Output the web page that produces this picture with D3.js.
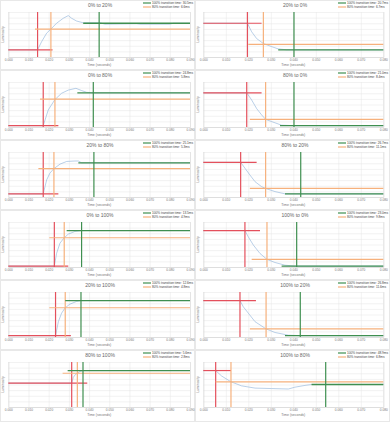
<!DOCTYPE html>
<html>
<head>
<meta charset="utf-8">
<script src="https://cdn.jsdelivr.net/npm/d3@7"></script>
<style>
  body { margin: 0; background: #fff; }
  text { font-family: "Liberation Sans", Arial, sans-serif; }
</style>
</head>
<body>
<div id="chart"></div>
<script>
// panel order: left column then right column, row by row
const titles = [
  "0% to 20%", "20% to 0%",
  "0% to 80%", "80% to 0%",
  "20% to 80%", "80% to 20%",
  "0% to 100%", "100% to 0%",
  "20% to 100%", "100% to 20%",
  "80% to 100%", "100% to 80%",
];

const label100 = ["30.5ms", "20.7ms", "24.8ms", "21.0ms", "25.1ms", "26.7ms",
  "13.5ms", "23.0ms", "12.6ms", "26.8ms", "5.6ms", "48.9ms"];
const label80 = ["6.6ms", "6.7ms", "5.8ms", "8.4ms", "5.3ms", "11.1ms",
  "4.9ms", "9.8ms", "4.8ms", "11.6ms", "2.8ms", "6.8ms"];

// start of transition: time, level, end of the red level line
const startT = [0.0145, 0.0196, 0.0173, 0.0193, 0.0173, 0.0166, 0.0228, 0.0185, 0.0234, 0.0163, 0.0314, 0.0055];
const startLevel = [16, 75, 3, 76, 7, 77, 2, 81, 3, 81, 53, 81];
const startEnd = [0.0219, 0.0259, 0.0248, 0.0259, 0.0248, 0.0237, 0.0297, 0.0252, 0.0310, 0.0234, 0.0391, 0.0123];

// 80% point
const t80 = [0.0211, 0.0267, 0.0231, 0.0277, 0.0226, 0.0277, 0.0277, 0.0283, 0.0282, 0.0279, 0.0342, 0.0123];
const level80 = [62, 28, 62, 17, 63, 19, 65, 17, 65, 18, 75, 56];
const from80 = [0.0132, 0.0200, 0.0157, 0.0207, 0.0149, 0.0207, 0.0203, 0.0215, 0.0203, 0.0207, 0.0269, 0.0055];

// 100% point
const t100 = [0.0450, 0.0403, 0.0421, 0.0403, 0.0424, 0.0433, 0.0363, 0.0415, 0.0360, 0.0431, 0.0370, 0.0544];
const level100 = [75, 16, 76, 3, 76, 7, 81, 2, 81, 3, 81, 50];
const from100 = [0.0371, 0.0333, 0.0342, 0.0341, 0.0347, 0.0363, 0.0289, 0.0348, 0.0282, 0.0363, 0.0294, 0.0481];

// measured luminosity curves [time (s), luminosity]
const curves = [
  [[0, 16], [0.0145, 16], [0.0165, 34], [0.0190, 53], [0.0211, 62], [0.0239, 75], [0.0272, 86], [0.0297, 92], [0.0314, 86], [0.0338, 80], [0.0371, 76], [0.0454, 76], [0.0479, 73], [0.0635, 74], [0.0652, 73], [0.0800, 73], [0.0817, 75], [0.0900, 75]],
  [[0, 75], [0.0196, 75], [0.0215, 56], [0.0237, 41], [0.0267, 30], [0.0304, 23], [0.0333, 18], [0.0370, 16], [0.0800, 16]],
  [[0, 3], [0.0173, 3], [0.0198, 38], [0.0231, 61], [0.0264, 75], [0.0297, 82], [0.0335, 86], [0.0363, 81], [0.0388, 77], [0.0420, 76], [0.0900, 76]],
  [[0, 76], [0.0193, 76], [0.0215, 60], [0.0237, 41], [0.0259, 27], [0.0277, 17], [0.0304, 12], [0.0348, 4], [0.0400, 3], [0.0800, 3]],
  [[0, 7], [0.0173, 7], [0.0190, 38], [0.0206, 53], [0.0226, 63], [0.0256, 73], [0.0289, 79], [0.0330, 80], [0.0347, 80], [0.0363, 76], [0.0400, 76], [0.0900, 76]],
  [[0, 77], [0.0166, 77], [0.0185, 64], [0.0207, 49], [0.0230, 34], [0.0259, 23], [0.0277, 19], [0.0319, 12], [0.0363, 7], [0.0800, 7]],
  [[0, 2], [0.0228, 2], [0.0239, 30], [0.0256, 53], [0.0277, 65], [0.0297, 73], [0.0330, 79], [0.0363, 81], [0.0900, 81]],
  [[0, 81], [0.0185, 81], [0.0200, 67], [0.0222, 49], [0.0252, 30], [0.0283, 17], [0.0319, 10], [0.0363, 4], [0.0407, 2], [0.0800, 2]],
  [[0, 3], [0.0234, 3], [0.0248, 34], [0.0264, 53], [0.0282, 65], [0.0305, 73], [0.0338, 79], [0.0360, 81], [0.0900, 81]],
  [[0, 81], [0.0163, 81], [0.0178, 67], [0.0200, 53], [0.0230, 34], [0.0279, 18], [0.0319, 10], [0.0378, 4], [0.0431, 3], [0.0800, 3]],
  [[0, 53], [0.0314, 53], [0.0322, 66], [0.0332, 72], [0.0342, 75], [0.0355, 79], [0.0370, 81], [0.0900, 81]],
  [[0, 81], [0.0055, 81], [0.0081, 69], [0.0123, 56], [0.0170, 47], [0.0230, 42], [0.0304, 41], [0.0378, 40], [0.0407, 44], [0.0452, 48], [0.0481, 50], [0.0800, 50]],
];

const xMax = [0.09, 0.08]; // left column, right column
const yTicks = [0, 12.5, 25, 37.5, 50, 62.5, 75, 87.5, 100];

const colors = {
  red: "#e4505c",
  orange: "#f6b17c",
  green: "#3f8f50",
  blue: "#8cb0d9",
  grid: "#e4e4e4",
  text: "#777",
};

const panelW = 195;
const rowTop = [0, 70, 140, 210, 280, 350];
const rowH = [70, 70, 70, 70, 70, 72];

const svg = d3.select("#chart").append("svg").attr("width", 390).attr("height", 422);

titles.forEach((title, i) => {
  const col = i % 2;
  const row = Math.floor(i / 2);
  const g = svg.append("g").attr("transform", `translate(${col * panelW}, ${rowTop[row]})`);

  g.append("rect")
    .attr("x", 0.5).attr("y", 0.5)
    .attr("width", panelW - 1).attr("height", rowH[row] - 1)
    .attr("fill", "#fff").attr("stroke", "#e8e8e8");

  const x = d3.scaleLinear().domain([0, xMax[col]]).range([8.3, col ? 188.3 : 190]);
  const y = d3.scaleLinear().domain([0, 100]).range([57, 12]);
  const xTicks = d3.range(0, Math.round(xMax[col] * 100) + 1).map((d) => d / 100);

  // horizontal grid
  g.append("g")
    .attr("transform", `translate(${x.range()[0]}, 0)`)
    .call(d3.axisLeft(y).tickValues(yTicks).tickSize(-(x.range()[1] - x.range()[0])).tickFormat(""))
    .call((a) => a.select(".domain").remove())
    .call((a) => a.selectAll("line").attr("stroke", colors.grid).attr("stroke-width", 0.5));

  // x axis with vertical grid
  g.append("g")
    .attr("transform", `translate(0, ${y(0)})`)
    .call(d3.axisBottom(x).tickValues(xTicks).tickSize(-(y(0) - y(100))).tickPadding(2).tickFormat(d3.format(".3f")))
    .call((a) => a.select(".domain").attr("stroke", "#d0d0d0").attr("stroke-width", 0.6))
    .call((a) => a.selectAll("line").attr("stroke", colors.grid).attr("stroke-width", 0.5))
    .call((a) => a.selectAll("text").attr("font-size", "3.2px").attr("fill", colors.text));

  g.append("text")
    .attr("x", (x.range()[0] + x.range()[1]) / 2)
    .attr("y", 66)
    .attr("text-anchor", "middle")
    .attr("font-size", "3.5px")
    .attr("fill", colors.text)
    .text("Time (seconds)");

  g.append("text")
    .attr("transform", `translate(4, ${(y(0) + y(100)) / 2}) rotate(-90)`)
    .attr("text-anchor", "middle")
    .attr("font-size", "3.5px")
    .attr("fill", colors.text)
    .text("Luminosity");

  g.append("text")
    .attr("x", 100)
    .attr("y", 7)
    .attr("text-anchor", "middle")
    .attr("font-size", "5px")
    .attr("fill", "#666")
    .text(title);

  // legend
  const legend = [
    { c: colors.green, t: "100% transition time: " + label100[i] },
    { c: colors.orange, t: "80% transition time: " + label80[i] },
  ];
  legend.forEach((d, k) => {
    g.append("line")
      .attr("x1", 143).attr("x2", 151)
      .attr("y1", 3 + k * 4).attr("y2", 3 + k * 4)
      .attr("stroke", d.c).attr("stroke-width", 1.2);
    g.append("text")
      .attr("x", 152).attr("y", 4.2 + k * 4)
      .attr("font-size", "3.2px")
      .attr("fill", "#444")
      .text(d.t);
  });

  const seg = (x1, y1, x2, y2, c, w) =>
    g.append("line")
      .attr("x1", x1).attr("y1", y1).attr("x2", x2).attr("y2", y2)
      .attr("stroke", c).attr("stroke-width", w);

  // response curve
  g.append("path")
    .datum(curves[i])
    .attr("fill", "none")
    .attr("stroke", colors.blue)
    .attr("stroke-width", 0.6)
    .attr("d", d3.line().x((d) => x(d[0])).y((d) => y(d[1])));

  // marker lines
  seg(x(0), y(startLevel[i]), x(startEnd[i]), y(startLevel[i]), colors.red, 1.2);
  seg(x(startT[i]), y(100), x(startT[i]), y(0), colors.red, 1.2);
  seg(x(from80[i]), y(level80[i]), x(xMax[col]), y(level80[i]), colors.orange, 1.2);
  seg(x(t80[i]), y(100), x(t80[i]), y(0), colors.orange, 1.2);
  seg(x(from100[i]), y(level100[i]), x(xMax[col]), y(level100[i]), colors.green, 1.3);
  seg(x(t100[i]), y(100), x(t100[i]), y(0), colors.green, 1.2);
});
</script>
</body>
</html>
